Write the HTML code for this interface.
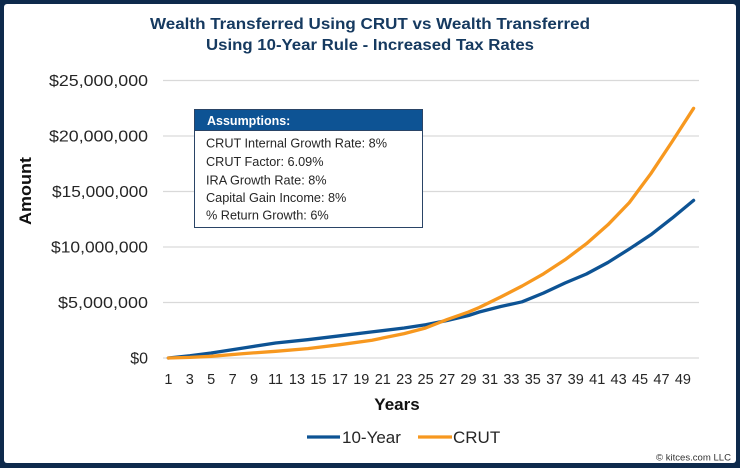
<!DOCTYPE html>
<html><head><meta charset="utf-8"><style>
html,body{margin:0;padding:0;background:#0e2a4c;}
svg{display:block;font-family:"Liberation Sans",sans-serif;}
</style></head><body>
<svg width="740" height="468" viewBox="0 0 740 468" xmlns="http://www.w3.org/2000/svg">
<rect x="0" y="0" width="740" height="468" fill="#0e2a4c"/>
<rect x="4" y="4" width="732" height="459" rx="3" fill="#ffffff"/>
<text x="370" y="29" text-anchor="middle" font-size="16" font-weight="bold" fill="#163a60" textLength="440" lengthAdjust="spacingAndGlyphs">Wealth Transferred Using CRUT vs Wealth Transferred</text>
<text x="370" y="50" text-anchor="middle" font-size="16" font-weight="bold" fill="#163a60" textLength="328" lengthAdjust="spacingAndGlyphs">Using 10-Year Rule - Increased Tax Rates</text>
<g stroke="#d9d9d9" stroke-width="1.3">
<line x1="163" y1="80.5" x2="699" y2="80.5"/>
<line x1="163" y1="136" x2="699" y2="136"/>
<line x1="163" y1="191.5" x2="699" y2="191.5"/>
<line x1="163" y1="247" x2="699" y2="247"/>
<line x1="163" y1="302.5" x2="699" y2="302.5"/>
<line x1="163" y1="358" x2="699" y2="358"/>
</g>
<g font-size="16" fill="#262626" text-anchor="end">
<text x="148" y="86" textLength="99" lengthAdjust="spacingAndGlyphs">$25,000,000</text>
<text x="148" y="141.5" textLength="99" lengthAdjust="spacingAndGlyphs">$20,000,000</text>
<text x="148" y="197" textLength="96" lengthAdjust="spacingAndGlyphs">$15,000,000</text>
<text x="148" y="252.5" textLength="97" lengthAdjust="spacingAndGlyphs">$10,000,000</text>
<text x="148" y="308" textLength="90" lengthAdjust="spacingAndGlyphs">$5,000,000</text>
<text x="148" y="363.5">$0</text>
</g>
<text transform="translate(31,191) rotate(-90)" text-anchor="middle" font-size="17" font-weight="bold" fill="#111" textLength="68" lengthAdjust="spacingAndGlyphs">Amount</text>
<g font-size="14.5" fill="#262626" text-anchor="middle">
<text x="168.4" y="384">1</text><text x="189.8" y="384">3</text><text x="211.2" y="384">5</text><text x="232.7" y="384">7</text><text x="254.1" y="384">9</text>
<text x="275.6" y="384">11</text><text x="297.0" y="384">13</text><text x="318.4" y="384">15</text><text x="339.9" y="384">17</text><text x="361.3" y="384">19</text>
<text x="382.8" y="384">21</text><text x="404.2" y="384">23</text><text x="425.6" y="384">25</text><text x="447.1" y="384">27</text><text x="468.5" y="384">29</text>
<text x="490.0" y="384">31</text><text x="511.4" y="384">33</text><text x="532.8" y="384">35</text><text x="554.3" y="384">37</text><text x="575.7" y="384">39</text>
<text x="597.2" y="384">41</text><text x="618.6" y="384">43</text><text x="640.0" y="384">45</text><text x="661.5" y="384">47</text><text x="682.9" y="384">49</text>
</g>
<text x="397" y="410" text-anchor="middle" font-size="17" font-weight="bold" fill="#111">Years</text>
<polyline fill="none" stroke="#0d5394" stroke-width="3.3" stroke-linejoin="round" stroke-linecap="round" points="168.4,358 189.8,355.8 211.2,353.0 243.4,348.0 275.6,343.0 307.7,339.7 339.9,335.8 372.0,331.9 404.2,328.0 425.6,324.7 447.1,320.5 468.5,315.5 479.2,312 500.7,306.5 522.1,301.8 543.6,293 565.0,283 586.4,274 607.9,262.5 629.3,249 650.8,234.8 672.2,218.1 693.6,200.4"/>
<polyline fill="none" stroke="#f7981f" stroke-width="3.3" stroke-linejoin="round" stroke-linecap="round" points="168.4,358 189.8,357.4 211.2,356.3 243.4,353.6 275.6,351.3 307.7,348.6 339.9,344.7 372.0,340.2 404.2,333.6 425.6,328.0 447.1,319.5 468.5,312 479.2,307.5 500.7,297 522.1,286 543.6,273.8 565.0,259.8 586.4,243.7 607.9,224.8 629.3,202.6 650.8,173.7 672.2,141.5 693.6,108.3"/>
<rect x="194.5" y="109.5" width="228" height="118" fill="#ffffff" stroke="#2a4466" stroke-width="1"/>
<rect x="194.5" y="109.5" width="228" height="21" fill="#0d5394" stroke="#2a4466" stroke-width="1"/>
<text x="207" y="125" font-size="12.5" font-weight="bold" fill="#ffffff">Assumptions:</text>
<g font-size="12.7" fill="#262626">
<text x="206" y="147.5">CRUT Internal Growth Rate: 8%</text>
<text x="206" y="166">CRUT Factor: 6.09%</text>
<text x="206" y="184.5">IRA Growth Rate: 8%</text>
<text x="206" y="202">Capital Gain Income: 8%</text>
<text x="206" y="219.5">% Return Growth: 6%</text>
</g>
<line x1="307" y1="437" x2="340" y2="437" stroke="#0d5394" stroke-width="3.3"/>
<text x="342" y="443" font-size="17" fill="#262626">10-Year</text>
<line x1="418" y1="437" x2="452" y2="437" stroke="#f7981f" stroke-width="3.3"/>
<text x="453" y="443" font-size="17" fill="#262626">CRUT</text>
<text x="731" y="460.5" text-anchor="end" font-size="9.5" fill="#333" textLength="75" lengthAdjust="spacingAndGlyphs">© kitces.com LLC</text>
</svg>
</body></html>
